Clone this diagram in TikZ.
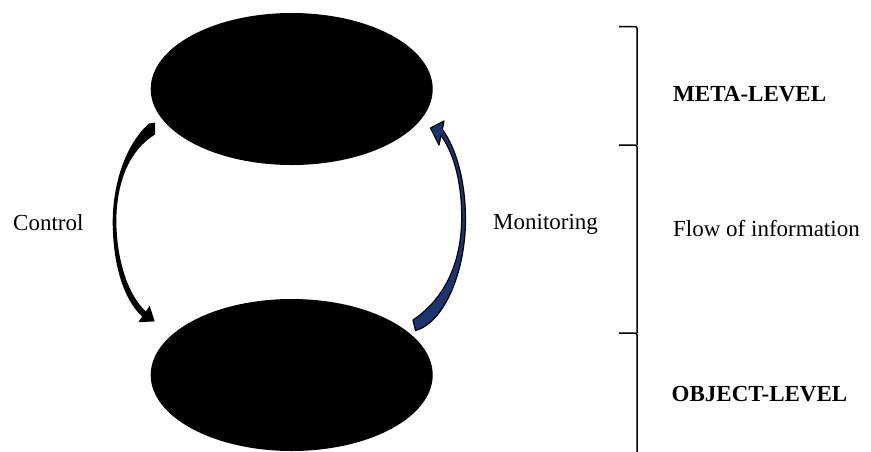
\documentclass[tikz,border=0pt]{standalone}
\usepackage{fontspec}
\setmainfont{Liberation Serif}
\usetikzlibrary{shapes.geometric}
\definecolor{navyarrow}{RGB}{28,52,112}
\begin{document}
\begin{tikzpicture}[x=1pt,y=-1pt,
  level/.style={ellipse, fill=black, draw=none, inner sep=0pt,
                minimum width=282pt, minimum height=152pt},
  lbl/.style={anchor=base west, inner sep=0pt, font=\fontsize{23}{27}\selectfont},
  boldlbl/.style={lbl, font=\fontsize{23}{27}\selectfont\bfseries},
  brace/.style={draw=black, line width=1.5pt, rounded corners=2pt}]
\useasboundingbox (0,0) rectangle (871,451);

% the two levels
\node[level] (meta) at (291.7,89) {};
\node[level] (object) at (291.7,375) {};

% control arrow (meta -> object), tapered black band
\fill[black]
  (155,122.7) -- (149,123.5)
  .. controls (130,140) and (113.5,175) .. (112.7,220)
  .. controls (112.5,265) and (124,300) .. (142.2,316.6)
  -- (138.3,322.2) -- (154.7,321.4) -- (149.7,305.8) -- (145.8,311.4)
  .. controls (129,296) and (116.5,262) .. (116.3,220)
  .. controls (117,180) and (130,150) .. (155,134.5) -- cycle;

% monitoring arrow (object -> meta), blue band with black outline
\filldraw[fill=navyarrow, draw=black, line width=1.2pt, line join=round]
  (413,320) -- (415.5,330.5)
  .. controls (445,322) and (466,270) .. (465.5,217)
  .. controls (465,180) and (456,148) .. (442.3,129.4)
  -- (444,121) -- (430.5,128) -- (439,145) -- (441,135.4)
  .. controls (453,152) and (461.7,180) .. (461.7,217)
  .. controls (461.7,265) and (443,300) .. (413,320) -- cycle;

% arrow labels
\node[lbl] (ctl) at (13,230) {Control};
\node[lbl] (mon) at (493,229) {Monitoring};

% right-hand brackets
\coordinate (b1) at (619,26.5);
\coordinate (b2) at (619,145);
\coordinate (b3) at (619,333);
\draw[brace] (b1) -- (637,26.5) -- (637,145);
\draw[brace] (b2) -- (637,145) -- (637,333);
\draw[brace] (b3) -- (637,333) -- (637,452);

% bracket labels
\node[boldlbl] (metalbl) at (673,101.5) {META-LEVEL};
\node[lbl] (flowlbl) at (673,236.5) {Flow of information};
\node[boldlbl] (objlbl) at (671.5,401.5) {OBJECT-LEVEL};
\end{tikzpicture}
\end{document}
